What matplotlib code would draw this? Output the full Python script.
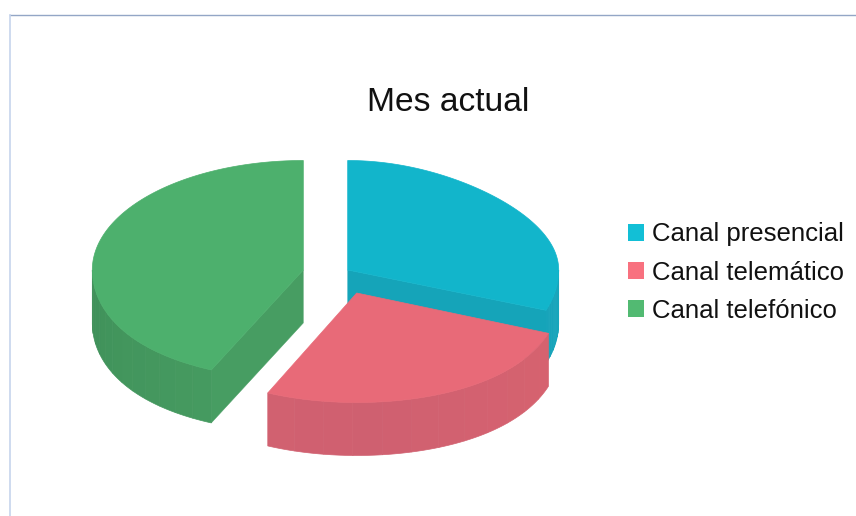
import numpy as np
import matplotlib
matplotlib.use("Agg")
import matplotlib.pyplot as plt
from matplotlib.patches import Polygon, Patch
from matplotlib.colors import to_rgb

plt.rcParams["font.family"] = ["Liberation Sans", "DejaVu Sans"]

title = "Mes actual"
labels = ["Canal presencial", "Canal telemático", "Canal telefónico"]
values = [31, 25.7, 43.3]
legend_colors = ["#12bfd6", "#f8717f", "#52ba72"]
top_colors = ["#12b5cb", "#e86a78", "#4db06d"]
cut_colors = ["#15a4b9", "#d5636f", "#479d62"]
wall_dark = ["#159cb2", "#cf6070", "#3f9059"]
wall_light = ["#17a6bc", "#d9636f", "#489e63"]
apex = [(347.7, 270), (356.7, 293), (303.3, 270)]
radius_x = [211, 204, 211]
back_pinch = [0.14, 0, 0]

RY, DEPTH = 109.5, 53
K_FRONT = 0.08


def rim(i, t):
    # the rim is not a true ellipse in the original, perspective bends it a bit
    cx, cy = apex[i]
    c = np.cos(t)
    squeeze = np.where(c > 0, 1 - back_pinch[i] * c ** 2, 1 + K_FRONT * c ** 2)
    return np.column_stack([cx + radius_x[i] * np.sin(t) * squeeze, cy - RY * c])


def draw_slice(ax, i, start, end):
    cx, cy = apex[i]
    edge = rim(i, np.linspace(start, end, 200))

    # straight cut, only the one facing the viewer shows
    if i in (0, 2):
        p = rim(i, np.array([end if i == 0 else start]))[0]
        ax.add_patch(Polygon([(cx, cy), p, (p[0], p[1] + DEPTH), (cx, cy + DEPTH)],
                             fc=cut_colors[i], ec=cut_colors[i], lw=0.3, zorder=i * 3 + 1))

    # outer wall in wide strips so the shading runs along it
    lo, hi = max(start, np.pi / 2), min(end, np.pi * 1.5)
    if hi > lo:
        steps = np.linspace(lo, hi, 13)
        dark, light = np.array(to_rgb(wall_dark[i])), np.array(to_rgb(wall_light[i]))
        for a, b in zip(steps[:-1], steps[1:]):
            seg = rim(i, np.linspace(a, b, 8))
            mix = abs((a + b) / 2 - np.pi) / (np.pi / 2)
            if i == 2:
                mix = 1 - mix
            col = dark + (light - dark) * mix
            poly = np.vstack([seg, seg[::-1] + [0, DEPTH]])
            ax.add_patch(Polygon(poly, fc=col, ec=col, lw=0.5, zorder=i * 3 + 2))

    ax.add_patch(Polygon(np.vstack([[cx, cy], edge]), fc=top_colors[i], ec=top_colors[i],
                         lw=0.5, zorder=i * 3 + 3))


fig = plt.figure(figsize=(8.56, 5.16), dpi=100)
ax = fig.add_axes([0, 0, 1, 1])
ax.set_xlim(0, 856)
ax.set_ylim(516, 0)
ax.axis("off")

ax.plot([10, 856], [15, 15], color="#93a6c6", lw=1)
ax.plot([10, 10], [15, 516], color="#c6d4ec", lw=1.2)

ends = np.cumsum(values) / np.sum(values) * 2 * np.pi
starts = np.concatenate([[0], ends[:-1]])
for i in [0, 2, 1]:
    draw_slice(ax, i, starts[i], ends[i])

ax.text(448, 102.5, title, fontsize=24.2, ha="center", va="center", color="#111111")

handles = [Patch(fc=c, ec="none", label=l) for c, l in zip(legend_colors, labels)]
ax.legend(handles=handles, loc="center left", bbox_to_anchor=(628 / 856, 1 - 272.5 / 516),
          frameon=False, fontsize=18.5, labelspacing=0.55, handlelength=0.62,
          handleheight=0.62, handletextpad=0.31, borderpad=0, borderaxespad=0,
          labelcolor="#111111")

fig.savefig("out.png", dpi=100)
